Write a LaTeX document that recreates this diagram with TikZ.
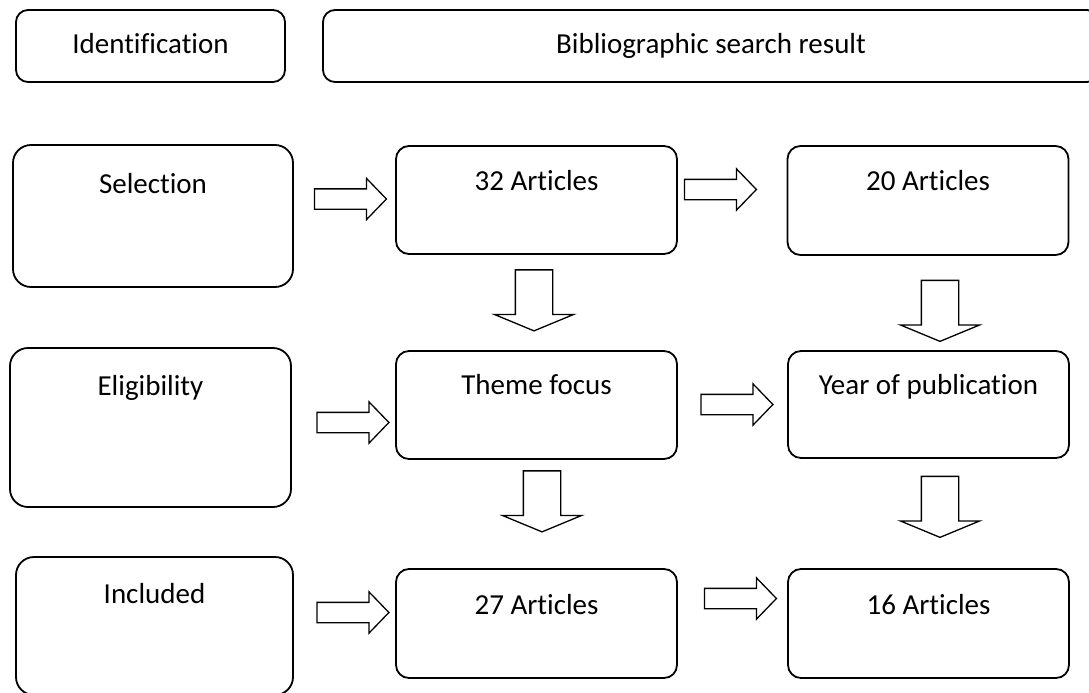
\documentclass[tikz,border=0pt]{standalone}
\usepackage{fontspec}
\setmainfont{Carlito}[Ligatures=NoCommon]
\usetikzlibrary{shapes.arrows}

\begin{document}
\begin{tikzpicture}[x=1pt,y=-1pt,line width=1.8pt,
                    font=\fontsize{29}{34}\selectfont]
  \tikzstyle{stage}=[draw,rounded corners=13pt,inner sep=0pt,minimum width=281pt]
  \tikzstyle{phase}=[stage,rounded corners=18pt]
  \tikzstyle{hflow}=[draw,single arrow,line width=1.3pt,inner xsep=0pt,inner ysep=9.5pt,
                     minimum height=72pt,
                     single arrow head extend=10.5pt,single arrow tip angle=92]
  \tikzstyle{vflow}=[hflow,rotate=-90,minimum height=61pt,inner ysep=18pt,
                     single arrow head extend=21pt,single arrow tip angle=135]

  \useasboundingbox (0,0) rectangle (1089,693);
  \clip (0,0) rectangle (1089,693);

  % phases
  \node[stage,rounded corners=12pt,minimum width=269pt,
        text height=43pt,text depth=29pt] (ident) at (150.5,46) {Identification};
  \node[stage,rounded corners=12pt,minimum width=776pt,
        text height=43pt,text depth=29pt] (search) at (711,46) {Bibliographic search result};
  \node[phase,minimum width=280pt,text height=48pt,text depth=94pt]  (sel)  at (153,216)   {Selection};
  \node[phase,text height=47pt,text depth=112pt]                     (elig) at (150.5,427.5) {Eligibility};
  \node[phase,minimum width=277pt,text height=46pt,text depth=92pt]  (incl) at (154.5,626) {Included};

  % screening steps
  \node[stage,text height=44pt,text depth=64pt] (a32)   at (536.5,200)   {32 Articles};
  \node[stage,text height=44pt,text depth=65pt] (a20)   at (928,200.5)   {20 Articles};
  \node[stage,text height=43pt,text depth=65pt] (theme) at (536.5,405)   {Theme focus};
  \node[stage,text height=43pt,text depth=64pt] (year)  at (928.5,404.5) {Year of publication};
  \node[stage,text height=45pt,text depth=64pt] (a27)   at (536.5,623.5) {27 Articles};
  \node[stage,text height=45pt,text depth=64pt] (a16)   at (928.5,623.5) {16 Articles};

  % block arrows
  \node[hflow] (sel-a32)    at (345.5,199)   {};
  \node[hflow] (a32-a20)    at (715.5,189.5) {};
  \node[hflow] (elig-theme) at (348,422.5)   {};
  \node[hflow] (theme-year) at (732,404.5)   {};
  \node[hflow] (incl-a27)   at (348,612.5)   {};
  \node[hflow] (a27-a16)    at (735.5,598.5) {};
  \node[vflow] (a32-theme)  at (534,296.5)   {};
  \node[vflow] (a20-year)   at (940,307)     {};
  \node[vflow] (theme-a27)  at (542,497.5)   {};
  \node[vflow] (year-a16)   at (940,503)     {};
\end{tikzpicture}
\end{document}
